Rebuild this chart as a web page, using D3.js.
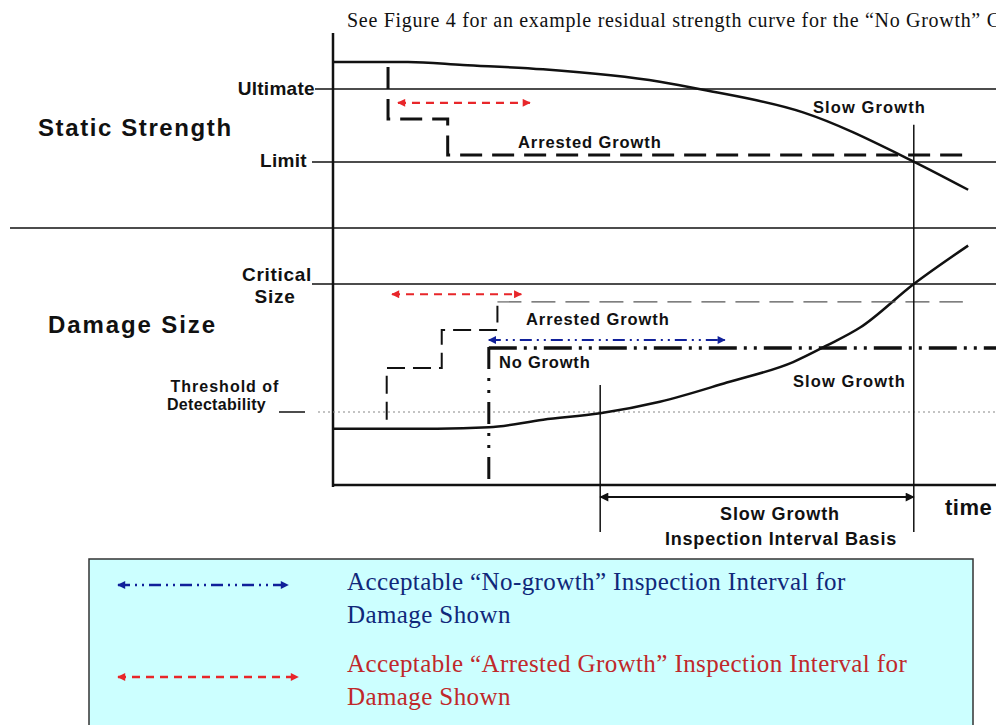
<!DOCTYPE html>
<html>
<head>
<meta charset="utf-8">
<style>
  body { margin: 0; background: #fff; }
  svg { display: block; }
  .lbl { font-family: "Liberation Sans", Arial, sans-serif; font-weight: bold; fill: #111; }
  .serif { font-family: "Liberation Serif", "Times New Roman", serif; }
</style>
</head>
<body>
<svg id="svg" width="996" height="725"></svg>
<script src="https://cdn.jsdelivr.net/npm/d3@7"></script>
<script>

// ----------------------------------------------------------------------------
//                                 DATA
// ----------------------------------------------------------------------------
// time runs 0..100 along the horizontal axis.
// strength: Limit = 0, Ultimate = 1.  damage: threshold = 0, critical = 1.

// Residual strength, slow growth
var strengthCurve = [[0, 1.37], [11.3, 1.37], [19.6, 1.33], [31.7, 1.27],
                     [49.3, 1.10], [55.8, 0.99], [70.9, 0.68], [87.5, 0.01], [95.8, -0.38]];
// Residual strength, arrested growth (staircase)
var strengthArrested = [[8.3, 1.30], [8.3, 0.59], [17.3, 0.59], [17.3, 0.096], [96.1, 0.096]];

// Damage size, slow growth
var damageCurve = [[0, -0.13], [15.7, -0.13], [23.5, -0.12], [31.7, -0.06], [40.3, -0.01],
                   [49.3, 0.08], [59.4, 0.23], [69.4, 0.39], [74.5, 0.52], [79.5, 0.66],
                   [87.6, 1.0], [95.8, 1.30]];
// Damage size, arrested growth (staircase) and its level line
var damageArrested = [[8.1, -0.06], [8.1, 0.344], [16.4, 0.344], [16.4, 0.64], [24.8, 0.64], [24.8, 0.83]];
var arrestedLevel = [[24.8, 0.86], [95.0, 0.86]];
// Damage size, no growth
var noGrowthDrop = [[23.5, 0.508], [23.5, -0.59]];
var noGrowthLevel = [[23.5, 0.50], [100, 0.50]];

// Inspection intervals [t0, t1, level]
var redStrengthInterval = [9.8, 29.7, 0.81];
var redDamageInterval = [8.9, 28.4, 0.92];
var blueDamageInterval = [23.5, 59.1, 0.5625];
var slowGrowthInterval = [40.3, 87.6, -0.665];

// Reference levels
var strengthLevels = [{ name: "Ultimate", v: 1 }, { name: "Limit", v: 0 }];
var damageLevels = [{ name: "Critical", v: 1 }, { name: "Threshold", v: 0 }];

var legendLines = [
  { color: "#10287a", arrow: "#10209a", dash: "12,5,2,5,2,5",
    text: ["Acceptable \u201cNo-growth\u201d Inspection Interval for", "Damage Shown"] },
  { color: "#c0282a", arrow: "#e8262a", dash: "8,6",
    text: ["Acceptable \u201cArrested Growth\u201d Inspection Interval for", "Damage Shown"] }
];

// ----------------------------------------------------------------------------
//                               SCALES
// ----------------------------------------------------------------------------
var svg = d3.select("#svg");

var x = d3.scaleLinear().domain([0, 100]).range([333, 996]);
var yS = d3.scaleLinear().domain([0, 1]).range([162, 89]);
var yD = d3.scaleLinear().domain([0, 1]).range([412, 284]);

var lineS = d3.line().x(function(d) { return x(d[0]); }).y(function(d) { return yS(d[1]); });
var lineD = d3.line().x(function(d) { return x(d[0]); }).y(function(d) { return yD(d[1]); });

// Arrow heads
var defs = svg.append("defs");
function marker(id, color, w, h) {
  defs.append("marker")
      .attr("id", id)
      .attr("viewBox", "0 0 10 10")
      .attr("refX", 9).attr("refY", 5)
      .attr("markerUnits", "userSpaceOnUse")
      .attr("markerWidth", w).attr("markerHeight", h)
      .attr("orient", "auto-start-reverse")
      .append("path")
      .attr("d", "M0,0 L10,5 L0,10 z")
      .attr("fill", color);
}
marker("redHead", "#e8262a", 10, 8);
marker("blueHead", "#10209a", 10, 8);
marker("blackHead", "#111", 20, 9);

// ----------------------------------------------------------------------------
//                               FRAME
// ----------------------------------------------------------------------------
// top note (runs off the right edge, as in the source figure)
svg.append("text").attr("class", "serif")
    .attr("x", 347).attr("y", 27)
    .style("font-size", "20px").style("letter-spacing", "0.7px").attr("fill", "#111")
    .text("See Figure 4 for an example residual strength curve for the \u201cNo Growth\u201d Case");

// vertical axis, time axis, separator
svg.append("line").attr("x1", 333).attr("x2", 333).attr("y1", 33).attr("y2", 487)
    .attr("stroke", "#111").attr("stroke-width", 2.5);
svg.append("line").attr("x1", 333).attr("x2", 996).attr("y1", 485).attr("y2", 485)
    .attr("stroke", "#111").attr("stroke-width", 2.5);
svg.append("line").attr("x1", 10).attr("x2", 996).attr("y1", 228).attr("y2", 228)
    .attr("stroke", "#111").attr("stroke-width", 1.5);

// reference levels
svg.selectAll(".slevel").data(strengthLevels).enter().append("line")
    .attr("x1", function(d) { return d.name == "Ultimate" ? 315 : 312; })
    .attr("x2", 996)
    .attr("y1", function(d) { return yS(d.v); })
    .attr("y2", function(d) { return yS(d.v); })
    .attr("stroke", "#111").attr("stroke-width", 1.5);

svg.append("line").attr("x1", 312).attr("x2", 996)
    .attr("y1", yD(damageLevels[0].v)).attr("y2", yD(damageLevels[0].v))
    .attr("stroke", "#111").attr("stroke-width", 1.5);
svg.append("line").attr("x1", 318).attr("x2", 996)
    .attr("y1", yD(damageLevels[1].v)).attr("y2", yD(damageLevels[1].v))
    .attr("stroke", "#888").attr("stroke-width", 1.2).attr("stroke-dasharray", "2,3");
svg.append("line").attr("x1", 279).attr("x2", 305).attr("y1", 412).attr("y2", 412)
    .attr("stroke", "#111").attr("stroke-width", 1.5);

// ----------------------------------------------------------------------------
//                               CURVES
// ----------------------------------------------------------------------------
svg.append("path").attr("d", lineS.curve(d3.curveMonotoneX)(strengthCurve))
    .attr("fill", "none").attr("stroke", "#111").attr("stroke-width", 2.5);
svg.append("path").attr("d", lineS.curve(d3.curveLinear)(strengthArrested))
    .attr("fill", "none").attr("stroke", "#111").attr("stroke-width", 3)
    .attr("stroke-dasharray", "22,10");

svg.append("path").attr("d", lineD.curve(d3.curveMonotoneX)(damageCurve))
    .attr("fill", "none").attr("stroke", "#111").attr("stroke-width", 2.5);
svg.append("path").attr("d", lineD.curve(d3.curveLinear)(damageArrested))
    .attr("fill", "none").attr("stroke", "#111").attr("stroke-width", 2)
    .attr("stroke-dasharray", "18,8");
svg.append("path").attr("d", lineD(arrestedLevel))
    .attr("fill", "none").attr("stroke", "#555").attr("stroke-width", 1.1)
    .attr("stroke-dasharray", "24,10");
svg.append("path").attr("d", lineD(noGrowthDrop))
    .attr("fill", "none").attr("stroke", "#111").attr("stroke-width", 3)
    .attr("stroke-dasharray", "22,9,3,9,3,9");
svg.append("path").attr("d", lineD(noGrowthLevel))
    .attr("fill", "none").attr("stroke", "#111").attr("stroke-width", 3.5)
    .attr("stroke-dasharray", "28,7,3,7,3,7");

// interval boundaries
svg.append("line")
    .attr("x1", x(slowGrowthInterval[0])).attr("x2", x(slowGrowthInterval[0]))
    .attr("y1", yD(0.21)).attr("y2", 532)
    .attr("stroke", "#111").attr("stroke-width", 1.5);
svg.append("line")
    .attr("x1", x(slowGrowthInterval[1])).attr("x2", x(slowGrowthInterval[1]))
    .attr("y1", yS(0.51)).attr("y2", 532)
    .attr("stroke", "#111").attr("stroke-width", 1.5);

// interval arrows
function interval(iv, scale, color, dash, head, width) {
  svg.append("line")
      .attr("x1", x(iv[0])).attr("x2", x(iv[1]))
      .attr("y1", scale(iv[2])).attr("y2", scale(iv[2]))
      .attr("stroke", color).attr("stroke-width", width)
      .attr("stroke-dasharray", dash)
      .attr("marker-start", "url(#" + head + ")")
      .attr("marker-end", "url(#" + head + ")");
}
interval(redStrengthInterval, yS, "#e8262a", "8,6", "redHead", 2.2);
interval(redDamageInterval, yD, "#e8262a", "8,6", "redHead", 2.2);
interval(blueDamageInterval, yD, "#10209a", "12,5,2,5,2,5", "blueHead", 2);
interval(slowGrowthInterval, yD, "#111", null, "blackHead", 2);

// ----------------------------------------------------------------------------
//                               LABELS
// ----------------------------------------------------------------------------
var labels = [
  { t: "Static Strength", x: 38, y: 136, size: 24, ls: 1.6 },
  { t: "Damage Size", x: 48, y: 333, size: 24, ls: 1.9 },
  { t: "Ultimate", x: 315, y: 95, size: 19, ls: 0.3, anchor: "end" },
  { t: "Limit", x: 307, y: 167, size: 19, ls: 0.3, anchor: "end" },
  { t: "Critical", x: 312, y: 281, size: 19, ls: 0.7, anchor: "end" },
  { t: "Size", x: 275, y: 303, size: 19, ls: 0.7, anchor: "middle" },
  { t: "Threshold of", x: 225, y: 392, size: 16, ls: 1, anchor: "middle" },
  { t: "Detectability", x: 167, y: 410, size: 16, ls: 0.3 },
  { t: "Arrested Growth", x: 518, y: 148, size: 16.5, ls: 0.9 },
  { t: "Slow Growth", x: 813, y: 113, size: 16.5, ls: 1.1 },
  { t: "Arrested Growth", x: 526, y: 325, size: 16.5, ls: 0.9 },
  { t: "No Growth", x: 499, y: 368, size: 16.5, ls: 0.8 },
  { t: "Slow Growth", x: 793, y: 387, size: 16.5, ls: 1.1 },
  { t: "Slow Growth", x: 780, y: 520, size: 18, ls: 0.9, anchor: "middle" },
  { t: "Inspection Interval Basis", x: 781, y: 545, size: 18, ls: 0.8, anchor: "middle" },
  { t: "time", x: 945, y: 515, size: 22, ls: 0.5 }
];

svg.selectAll(".lbl").data(labels).enter().append("text")
    .attr("class", "lbl")
    .attr("x", function(d) { return d.x; })
    .attr("y", function(d) { return d.y; })
    .attr("text-anchor", function(d) { return d.anchor || "start"; })
    .style("font-size", function(d) { return d.size + "px"; })
    .style("letter-spacing", function(d) { return d.ls + "px"; })
    .text(function(d) { return d.t; });

// ----------------------------------------------------------------------------
//                               LEGEND
// ----------------------------------------------------------------------------
svg.append("rect").attr("x", 89).attr("y", 559).attr("width", 884).attr("height", 180)
    .attr("fill", "#ccffff").attr("stroke", "#333").attr("stroke-width", 1.5);

var lg = svg.selectAll(".lg").data(legendLines).enter().append("g")
    .attr("transform", function(d, i) { return "translate(0," + (i * 82) + ")"; });

lg.append("line")
    .attr("x1", 118).attr("x2", function(d, i) { return i == 0 ? 288 : 298; })
    .attr("y1", function(d, i) { return 585 + i * 10; })
    .attr("y2", function(d, i) { return 585 + i * 10; })
    .attr("stroke", function(d) { return d.arrow; })
    .attr("stroke-width", 2.5)
    .attr("stroke-dasharray", function(d) { return d.dash; })
    .attr("marker-start", function(d, i) { return i == 0 ? "url(#blueHead)" : "url(#redHead)"; })
    .attr("marker-end", function(d, i) { return i == 0 ? "url(#blueHead)" : "url(#redHead)"; });

lg.selectAll("text").data(function(d) { return d.text.map(function(t) { return { t: t, c: d.color }; }); })
  .enter().append("text")
    .attr("class", "serif")
    .attr("x", 347)
    .attr("y", function(d, i) { return 590 + i * 33; })
    .style("font-size", "25px")
    .style("letter-spacing", "0.4px")
    .attr("fill", function(d) { return d.c; })
    .text(function(d) { return d.t; });

</script>
</body>
</html>
